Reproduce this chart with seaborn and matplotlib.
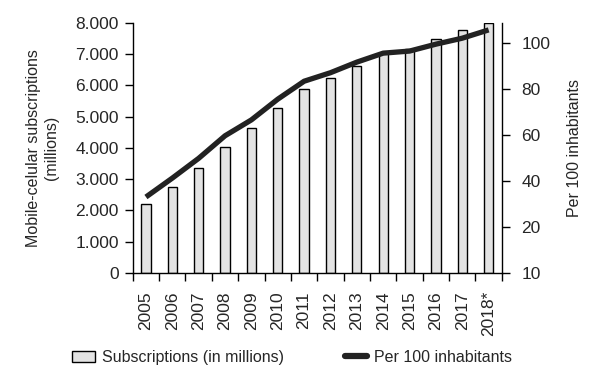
import numpy as np
import pandas as pd
import matplotlib
matplotlib.use("Agg")
import matplotlib.pyplot as plt
import seaborn as sns
from matplotlib.patches import Patch
from matplotlib.lines import Line2D

# Data
years = ["2005", "2006", "2007", "2008", "2009", "2010", "2011",
         "2012", "2013", "2014", "2015", "2016", "2017", "2018*"]
subscriptions = [2205, 2745, 3368, 4030, 4640, 5290, 5890,
                 6232, 6620, 7040, 7180, 7500, 7780, 8000]
per_100 = [33.0, 41.2, 49.8, 59.6, 66.5, 75.5, 83.3,
           87.0, 91.6, 95.5, 96.4, 99.4, 102.0, 105.6]
left_ticks = [0, 1000, 2000, 3000, 4000, 5000, 6000, 7000, 8000]
left_tick_labels = ["0", "1.000", "2.000", "3.000", "4.000", "5.000",
                    "6.000", "7.000", "8.000"]
right_ticks = [0, 20, 40, 60, 80, 100]
right_tick_labels = ["10", "20", "40", "60", "80", "100"]

sns.set_theme(style="white")
plt.rcParams["font.family"] = ["Liberation Sans Narrow", "Liberation Sans", "DejaVu Sans"]
plt.rcParams["font.size"] = 11

df = pd.DataFrame({"year": years, "subs": subscriptions, "per100": per_100})

fig = plt.figure(figsize=(6.09, 3.77), dpi=100)
ax = fig.add_axes([0.218, 0.276, 0.606, 0.663])

sns.barplot(data=df, x="year", y="subs", ax=ax, color="#e3e3e3",
            edgecolor="black", linewidth=1, width=0.35, saturation=1)
ax.set_ylim(0, 8000)
ax.set_xlim(-0.5, len(years) - 0.5)
ax.set_yticks(left_ticks)
ax.set_yticklabels(left_tick_labels, fontsize=12.5)
ax.set_xticks(range(len(years)))
ax.set_xticklabels(years, rotation=90, fontsize=12.5)
ax.set_xticks(np.arange(-0.5, len(years), 1.0), minor=True)
ax.tick_params(axis="x", which="major", length=0, pad=13)
ax.tick_params(axis="x", which="minor", length=6, width=1, color="black", bottom=True)
ax.tick_params(axis="y", length=6, width=1, color="black", left=True, pad=4)
ax.set_xlabel("")
ax.set_ylabel("Mobile-celular subscriptions\n(millions)", fontsize=11.5, labelpad=12)
for side in ["top", "right"]:
    ax.spines[side].set_visible(False)
for side in ["left", "bottom"]:
    ax.spines[side].set_color("black")
    ax.spines[side].set_linewidth(1)

ax2 = ax.twinx()
sns.lineplot(x=np.arange(len(years)), y=df["per100"], ax=ax2,
             color="#222222", linewidth=3.8, solid_capstyle="butt")
ax2.set_ylim(0, 108.6)
ax2.set_yticks(right_ticks)
ax2.set_yticklabels(right_tick_labels, fontsize=12.5)
ax2.tick_params(axis="y", length=6, width=1, color="black", right=True, pad=8)
ax2.set_ylabel("Per 100 inhabitants", fontsize=11.5, labelpad=12)
for side in ["top", "left", "bottom"]:
    ax2.spines[side].set_visible(False)
ax2.spines["right"].set_color("black")
ax2.spines["right"].set_linewidth(1)

handles = [Patch(facecolor="#e3e3e3", edgecolor="black", linewidth=1),
           Line2D([0], [0], color="#222222", linewidth=4.5)]
fig.legend(handles, ["Subscriptions (in millions)", "Per 100 inhabitants"],
           loc="center", bbox_to_anchor=(0.48, 0.052), ncol=2, frameon=False,
           fontsize=11.5, columnspacing=3.8, handlelength=1.4, handletextpad=0.45)

fig.savefig("out.png", dpi=100)
